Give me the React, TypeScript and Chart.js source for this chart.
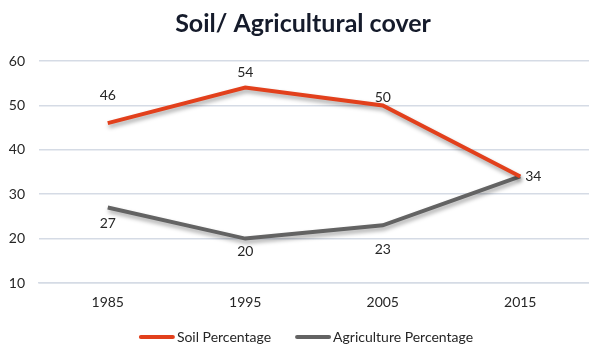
import React, { useEffect, useRef } from "react";
import { Chart, registerables } from "chart.js";

Chart.register(...registerables);

const years = ["1985", "1995", "2005", "2015"];
const soilPercentage = [46, 54, 50, 34];
const agriculturePercentage = [27, 20, 23, 34];
const soilLabelDy = [-28, -15, -8, 0];
const agriLabelDy = [16, 13, 24, 0];
const chartTitle = "Soil/ Agricultural cover";

const FONT = "Lato, 'Open Sans', sans-serif";
const TEXT = "#262626";

const shadowPlugin = {
  id: "lineShadow",
  beforeDatasetDraw(chart: any) {
    const ctx = chart.ctx;
    ctx.save();
    ctx.shadowColor = "rgba(0,0,0,0.35)";
    ctx.shadowBlur = 4;
    ctx.shadowOffsetX = 1;
    ctx.shadowOffsetY = 3;
  },
  afterDatasetDraw(chart: any) {
    chart.ctx.restore();
  },
};

const labelPlugin = {
  id: "pointLabels",
  afterDatasetsDraw(chart: any) {
    const ctx = chart.ctx;
    ctx.save();
    ctx.font = `14px ${FONT}`;
    ctx.fillStyle = TEXT;
    ctx.textBaseline = "middle";
    const dys = [soilLabelDy, agriLabelDy];
    chart.data.datasets.forEach((ds: any, i: number) => {
      const meta = chart.getDatasetMeta(i);
      const last = ds.data.length - 1;
      meta.data.forEach((pt: any, j: number) => {
        if (j === last) {
          if (i !== 0) return;
          ctx.textAlign = "left";
          ctx.fillText(String(ds.data[j]), pt.x + 5, pt.y);
        } else {
          ctx.textAlign = "center";
          ctx.fillText(String(ds.data[j]), pt.x, pt.y + dys[i][j]);
        }
      });
    });
    ctx.restore();
  },
};

const titleLegendPlugin = {
  id: "titleLegend",
  afterDraw(chart: any) {
    const ctx = chart.ctx;
    ctx.save();
    // title
    ctx.font = `bold 25px ${FONT}`;
    ctx.fillStyle = "#151b2b";
    ctx.textAlign = "center";
    ctx.textBaseline = "middle";
    ctx.fillText(chartTitle, 303, 24);
    // legend
    ctx.font = `14px ${FONT}`;
    ctx.textAlign = "left";
    const swatch = 36;
    const gap = 2;
    const itemGap = 24;
    const items = chart.data.datasets.map((ds: any) => ({
      label: ds.label,
      color: ds.borderColor,
      w: swatch + gap + ctx.measureText(ds.label).width,
    }));
    const total =
      items.reduce((s: number, it: any) => s + it.w, 0) + itemGap * (items.length - 1);
    let x = 306 - total / 2;
    const y = 337;
    items.forEach((it: any) => {
      ctx.strokeStyle = it.color;
      ctx.lineWidth = 4;
      ctx.lineCap = "round";
      ctx.beginPath();
      ctx.moveTo(x + 2, y);
      ctx.lineTo(x + swatch - 2, y);
      ctx.stroke();
      ctx.fillStyle = TEXT;
      ctx.fillText(it.label, x + swatch + gap, y);
      x += it.w + itemGap;
    });
    ctx.restore();
  },
};

export default function App() {
  const ref = useRef<HTMLCanvasElement>(null);
  useEffect(() => {
    document.body.style.margin = "0";
    const chart = new Chart(ref.current!, {
      type: "line",
      data: {
        labels: years,
        datasets: [
          {
            label: "Soil Percentage",
            data: soilPercentage,
            borderColor: "#e2401c",
            backgroundColor: "#e2401c",
            borderWidth: 4,
            pointRadius: 0,
            tension: 0,
          },
          {
            label: "Agriculture Percentage",
            data: agriculturePercentage,
            borderColor: "#636363",
            backgroundColor: "#636363",
            borderWidth: 4,
            pointRadius: 0,
            tension: 0,
          },
        ],
      },
      options: {
        animation: false,
        responsive: false,
        layout: { padding: { top: 61, right: -2, left: 0, bottom: 0 } },
        plugins: {
          title: { display: false },
          legend: { display: false },
          tooltip: { enabled: false },
        },
        scales: {
          x: {
            offset: true,
            grid: { display: false, drawTicks: false },
            border: { display: true, color: "#d5dbe5", width: 1.5 },
            ticks: {
              color: TEXT,
              font: { family: FONT, size: 14 },
              padding: 11,
            },
            afterFit(scale: any) {
              scale.height = 64;
            },
          },
          y: {
            min: 10,
            max: 60,
            ticks: {
              stepSize: 10,
              color: TEXT,
              font: { family: FONT, size: 14 },
              padding: 14,
            },
            grid: { color: "#d5dbe5", lineWidth: 1.5, drawTicks: false },
            border: { display: false },
            afterFit(scale: any) {
              scale.width = 39;
            },
          },
        },
      },
      plugins: [shadowPlugin, labelPlugin, titleLegendPlugin],
    });
    return () => chart.destroy();
  }, []);
  return (
    <div style={{ width: 589, height: 347 }}>
      <canvas ref={ref} width={589} height={347} />
    </div>
  );
}
